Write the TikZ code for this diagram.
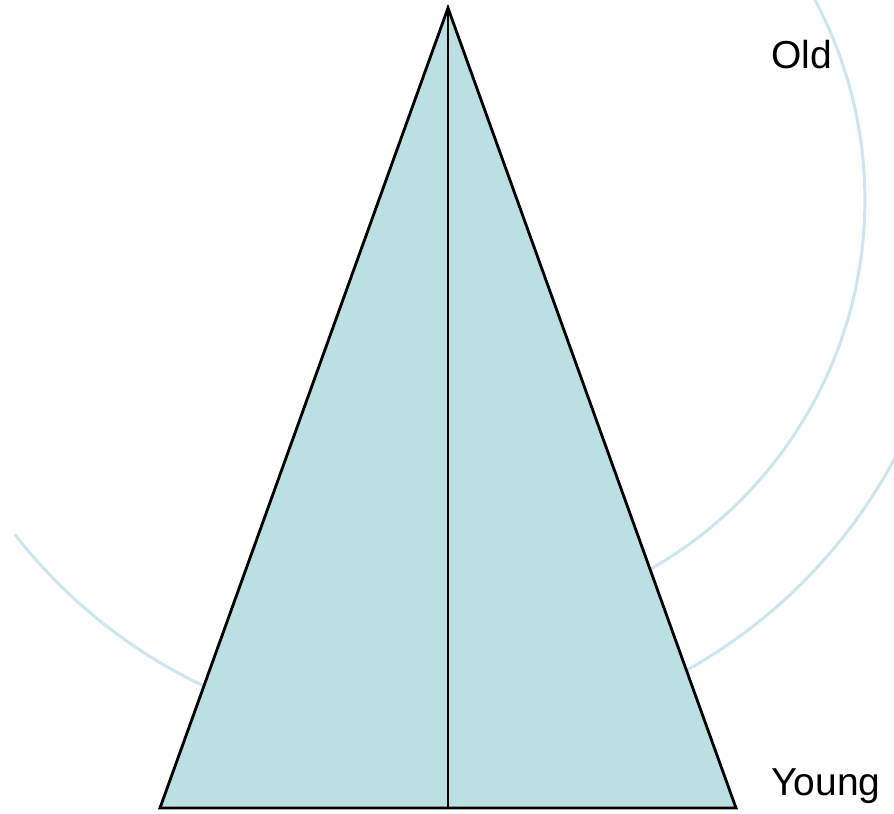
\documentclass[tikz,border=0pt]{standalone}
\usepackage{fontspec}
\setmainfont{Liberation Sans}
\definecolor{pyrfill}{RGB}{188,223,227}
\definecolor{swoosh}{RGB}{205,229,238}
\begin{document}
\begin{tikzpicture}[
  x=0.02cm, y=0.02cm,
  swirl/.style={draw=swoosh, line width=1.7pt},
  side/.style={draw=black, line width=1.6pt, line join=miter},
  lbl/.style={font=\fontsize{22.2}{25}\selectfont, inner sep=0pt, anchor=base west}
]
\useasboundingbox (0,0) rectangle (894,814);
% background swooshes
\begin{scope}
\clip (0,0) rectangle (894,814);
\coordinate (c1) at (440,614);
\coordinate (c2) at (430,604);
\draw[swirl] ([shift={(35:8.5cm)}]c1) arc[start angle=35, end angle=-70, radius=8.5cm];
\draw[swirl] ([shift={(218:10.54cm)}]c2) arc[start angle=218, end angle=345, radius=10.54cm];
\end{scope}
% pyramid
\coordinate (top) at (448,806);
\coordinate (bl) at (160,6);
\coordinate (br) at (736,6);
\coordinate (bm) at (448,6);
\fill[pyrfill] (top) -- (br) -- (bl) -- cycle;
\draw[side] (top) -- (br) -- (bl) -- cycle;
\draw[side] (top) -- (bm);
% labels
\node[lbl] (old) at (771,745) {Old};
\node[lbl] (young) at (771,18) {Young};
\end{tikzpicture}
\end{document}
